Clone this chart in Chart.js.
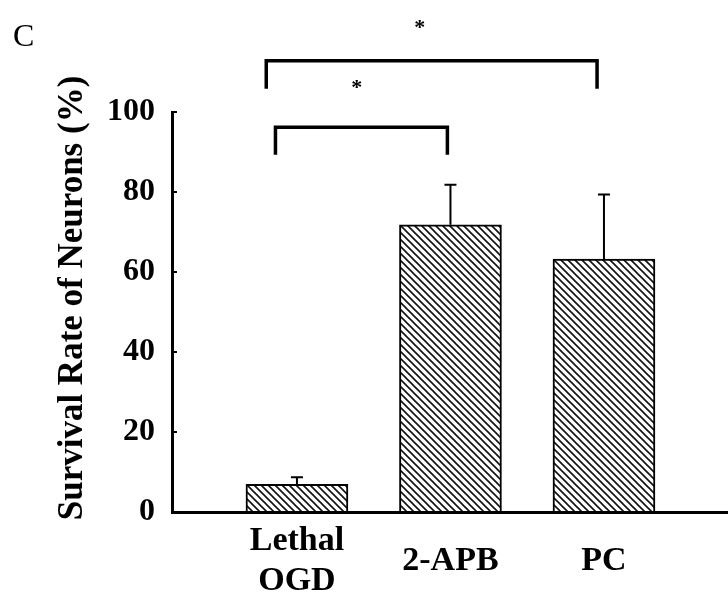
<!DOCTYPE html>
<html>
<head>
<meta charset="utf-8">
<script src="https://cdn.jsdelivr.net/npm/chart.js@4/dist/chart.umd.min.js"></script>
<style>
  html, body { margin: 0; padding: 0; background: #fff; }
  #wrap { width: 728px; height: 598px; position: relative; }
</style>
</head>
<body>
<div id="wrap"><canvas id="c" width="728" height="598"></canvas></div>
<script>
// ---- data ----
const categories = [["Lethal", "OGD"], ["2-APB"], ["PC"]];
const survival = [6.9, 71.8, 63.2];
const errorUp = [1.8, 10.0, 16.2];
const yTicks = [0, 20, 40, 60, 80, 100];
// significance brackets (category index units / value units)
const bracketFrom = [-0.14, -0.2];
const bracketTo = [0.98, 1.955];
const bracketLevel = [96.2, 112.8];
const bracketDrop = [89.3, 105.8];
const starX = [0.39, 0.80];
const starY = [106.8, 121.8];
const panelLabel = "C";
const yTitle = "Survival Rate of Neurons (%)";

const SERIF = "'Liberation Serif', 'Times New Roman', serif";

function makeHatch() {
  const s = 7;
  const c = document.createElement('canvas');
  c.width = s; c.height = s;
  const g = c.getContext('2d');
  g.fillStyle = '#fff';
  g.fillRect(0, 0, s, s);
  g.strokeStyle = '#111';
  g.lineWidth = 1.6;
  g.beginPath();
  g.moveTo(-1, -1); g.lineTo(s + 1, s + 1);
  g.moveTo(-1, s - 1); g.lineTo(1, s + 1);
  g.moveTo(s - 1, -1); g.lineTo(s + 1, 1);
  g.stroke();
  return g.createPattern(c, 'repeat');
}

const annotPlugin = {
  id: 'annot',
  afterDatasetsDraw(chart) {
    const ctx = chart.ctx;
    const xs = chart.scales.x, ys = chart.scales.y;
    ctx.save();
    // error bars
    ctx.strokeStyle = '#000';
    ctx.lineWidth = 2;
    survival.forEach((v, i) => {
      const x = xs.getPixelForValue(i);
      const y0 = ys.getPixelForValue(v);
      const y1 = ys.getPixelForValue(v + errorUp[i]);
      ctx.beginPath();
      ctx.moveTo(x, y0); ctx.lineTo(x, y1);
      ctx.moveTo(x - 6, y1); ctx.lineTo(x + 6, y1);
      ctx.stroke();
    });
    // brackets
    ctx.lineWidth = 3.5;
    ctx.lineJoin = 'miter';
    bracketFrom.forEach((f, i) => {
      const x1 = xs.getPixelForValue(f);
      const x2 = xs.getPixelForValue(bracketTo[i]);
      const yl = ys.getPixelForValue(bracketLevel[i]);
      const yd = ys.getPixelForValue(bracketDrop[i]);
      ctx.beginPath();
      ctx.moveTo(x1, yd); ctx.lineTo(x1, yl); ctx.lineTo(x2, yl); ctx.lineTo(x2, yd);
      ctx.stroke();
    });
    // stars
    ctx.fillStyle = '#000';
    ctx.font = "bold 22px " + SERIF;
    ctx.textAlign = 'center';
    ctx.textBaseline = 'middle';
    starX.forEach((sx, i) => {
      ctx.fillText('*', xs.getPixelForValue(sx), ys.getPixelForValue(starY[i]) + 4);
    });
    // panel label
    ctx.font = "32px " + SERIF;
    ctx.textAlign = 'left';
    ctx.textBaseline = 'alphabetic';
    ctx.fillText(panelLabel, 13, 46);
    // y title
    ctx.font = "bold 35px " + SERIF;
    ctx.translate(82, 298);
    ctx.rotate(-Math.PI / 2);
    ctx.textAlign = 'center';
    ctx.textBaseline = 'alphabetic';
    ctx.fillText(yTitle, 0, 0);
    ctx.restore();
  }
};

const hatch = makeHatch();

new Chart(document.getElementById('c'), {
  type: 'bar',
  data: {
    datasets: [{
      data: survival.map((v, i) => ({ x: i, y: v })),
      backgroundColor: hatch,
      borderColor: '#000',
      borderWidth: 2,
      borderSkipped: 'bottom',
      barThickness: 102
    }]
  },
  options: {
    responsive: false,
    animation: false,
    devicePixelRatio: 1,
    layout: { padding: { left: 0, right: 0, top: 112, bottom: 0 } },
    plugins: { legend: { display: false }, tooltip: { enabled: false }, title: { display: false } },
    scales: {
      x: {
        type: 'linear',
        min: -0.814,
        max: 2.808,
        offset: false,
        afterBuildTicks(scale) { scale.ticks = categories.map((c, i) => ({ value: i })); },
        afterFit(scale) { scale.height = 86; },
        grid: { display: false, offset: false, drawTicks: false },
        border: { display: true, color: '#000', width: 3 },
        ticks: {
          autoSkip: false,
          maxRotation: 0,
          color: '#000',
          padding: 29,
          crossAlign: 'center',
          font: { family: SERIF, size: 34, weight: 'bold', lineHeight: 1.18 },
          callback: (v) => categories[v] || ''
        }
      },
      y: {
        min: 0,
        max: 100,
        afterBuildTicks(scale) { scale.ticks = yTicks.map(v => ({ value: v })); },
        afterFit(scale) { scale.width = 172; },
        grid: { drawOnChartArea: false, drawTicks: true, tickLength: -5, color: '#000', lineWidth: 2 },
        border: { display: true, color: '#000', width: 3 },
        ticks: {
          color: '#000',
          padding: 22,
          font: { family: SERIF, size: 32, weight: 'bold' }
        }
      }
    }
  },
  plugins: [annotPlugin]
});
</script>
</body>
</html>
